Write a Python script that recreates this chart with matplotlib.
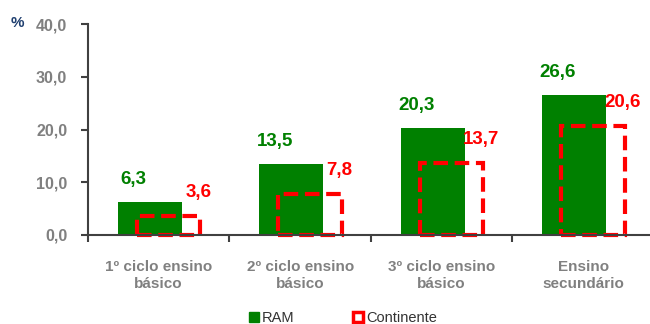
import numpy as np
import matplotlib.pyplot as plt
from matplotlib.patches import Rectangle

plt.rcParams['font.family'] = ['Liberation Sans', 'DejaVu Sans']

# Data
categories = ['1º ciclo ensino\nbásico', '2º ciclo ensino\nbásico',
              '3º ciclo ensino\nbásico', 'Ensino\nsecundário']
ram = [6.3, 13.5, 20.3, 26.6]
continente = [3.6, 7.8, 13.7, 20.6]
yticks = [0, 10, 20, 30, 40]

green = '#008000'
red = '#FF0000'
grey = '#808080'
axis_col = '#404040'

fig = plt.figure(figsize=(6.5, 3.24), dpi=100)
ax = fig.add_axes([0.1354, 0.2747, 0.8706, 0.6512])

x = np.arange(len(categories))

# RAM bars (filled) and Continente bars (dashed outline)
ax.bar(x - 0.062, ram, width=0.452, color=green, zorder=2)
ax.bar(x + 0.069, continente, width=0.45, fill=False, edgecolor=red,
       linewidth=3, linestyle=(0, (3.5, 1.6)), zorder=3, clip_on=False)

# value labels
for xi, v in zip(x, ram):
    ax.annotate(f'{v:.1f}'.replace('.', ','), (xi - 0.18, v),
                xytext=(0, 16), textcoords='offset points',
                ha='center', va='center', fontsize=13.5,
                fontweight='bold', color=green)
for xi, v in zip(x, continente):
    ax.annotate(f'{v:.1f}'.replace('.', ','), (xi + 0.069 + 0.21, v),
                xytext=(0, 17), textcoords='offset points',
                ha='center', va='center', fontsize=13.5,
                fontweight='bold', color=red)

ax.set_xlim(-0.5, 3.5)
ax.set_ylim(0, 40)
ax.set_yticks(yticks)
ax.set_yticklabels([f'{t:.1f}'.replace('.', ',') for t in yticks])

ax.set_xticks(np.arange(-0.5, 4.0, 1.0))
ax.set_xticklabels([])
ax.set_xticks(x, minor=True)
ax.set_xticklabels(categories, minor=True, linespacing=1.3)
ax.tick_params(axis='x', which='minor', length=0, pad=18)
ax.tick_params(axis='x', which='major', length=5, width=1.5,
               color=axis_col, direction='out')
ax.tick_params(axis='y', length=5, width=1.5, color=axis_col, pad=10)

for lab in ax.get_yticklabels():
    lab.set_fontweight('bold')
    lab.set_color(grey)
    lab.set_fontsize(11.5)
for lab in ax.get_xticklabels(minor=True):
    lab.set_fontweight('bold')
    lab.set_color(grey)
    lab.set_fontsize(11)

for s in ['top', 'right']:
    ax.spines[s].set_visible(False)
for s in ['left', 'bottom']:
    ax.spines[s].set_color(axis_col)
    ax.spines[s].set_linewidth(1.5)
    ax.spines[s].set_zorder(4)

fig.text(17 / 650, 1 - 23 / 324, '%', color='#1F3F6F', fontsize=11,
         fontweight='bold', ha='center', va='center')

# legend
h_ram = Rectangle((0, 0), 1, 1, facecolor=green, edgecolor=green)
h_cont = Rectangle((0, 0), 1, 1, facecolor='white', edgecolor=red, linewidth=2.5)
fig.legend([h_ram, h_cont], ['RAM', 'Continente'], loc='center',
           bbox_to_anchor=(343 / 650, 1 - 318 / 324), ncol=2, frameon=False,
           fontsize=10.5, handlelength=0.7, handleheight=0.7,
           handletextpad=0.2, columnspacing=4.0, labelcolor='#333333')

fig.savefig('out.png', dpi=100)
